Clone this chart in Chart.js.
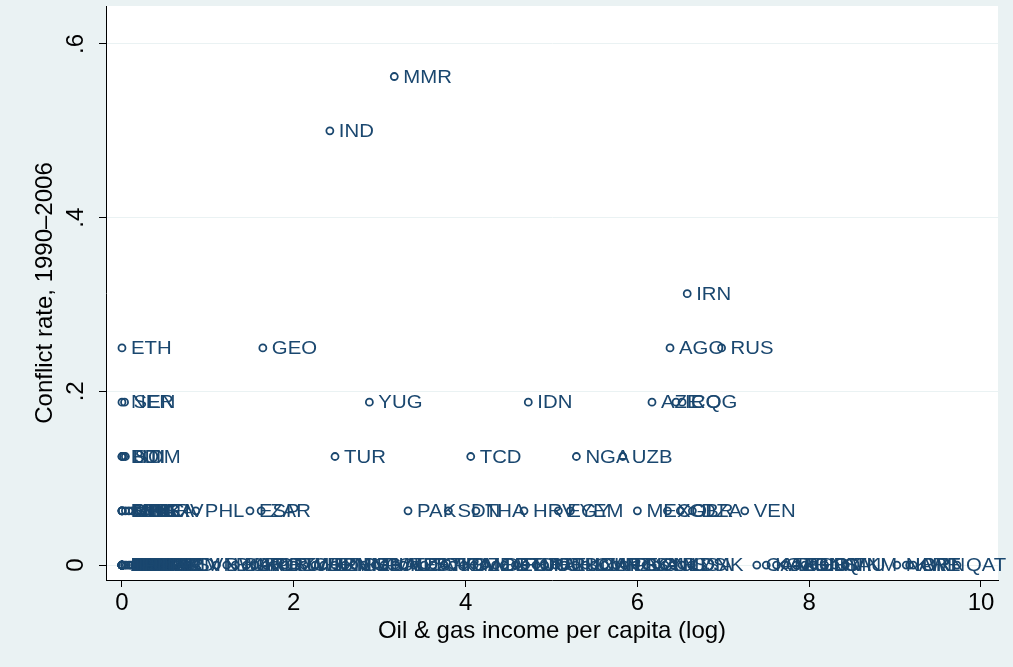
<!DOCTYPE html>
<html>
<head>
<meta charset="utf-8">
<script src="https://cdn.jsdelivr.net/npm/chart.js@4.4.0/dist/chart.umd.min.js"></script>
<style>
  html, body { margin: 0; padding: 0; background: #eaf2f3; }
  #wrap { width: 1013px; height: 667px; }
</style>
</head>
<body>
<div id="wrap"><canvas id="chart" width="1013" height="667"></canvas></div>
<script>
// one entry per country: ISO code, oil & gas income per capita (log), conflict rate
const countries = [
  'MMR', 'IND', 'IRN',
  'ETH', 'GEO', 'AGO', 'RUS',
  'NER', 'SEN', 'YUG', 'IDN', 'AZE', 'IRQ', 'COG',
  'BDI', 'DJI', 'SOM', 'HTI', 'TUR', 'TCD', 'NGA', 'UZB',
  'MLI', 'GIN', 'RWA', 'LBR', 'NPL', 'LKA', 'SLE', 'TJK', 'UGA', 'ISR', 'CIV', 'PHL', 'ESP', 'ZAR',
  'PAK', 'SDN', 'THA', 'HRV', 'EGY', 'YEM', 'MEX', 'COL', 'GBR', 'DZA', 'VEN',
  'ALB', 'BEN', 'BFA', 'BTN', 'CPV', 'CRI', 'CYP', 'GMB', 'GNB', 'ISL', 'JAM', 'LSO', 'MWI', 'MUS', 'FJI', 'ERI',
  'KEN', 'LAO', 'MDG', 'NAM', 'PAN', 'PRY', 'SLV', 'SWZ', 'TGO', 'URY', 'ZMB', 'MDA', 'KGZ', 'LVA', 'NIC', 'HND', 'ARM',
  'SVN', 'BWA', 'BGR', 'BLR', 'GRC', 'KOR', 'PRT', 'LTU', 'SWE', 'ZWE', 'CHE', 'HUN', 'JPN', 'KHM', 'MNG', 'BEL',
  'GHA', 'POL', 'MKD', 'AUT', 'TZA', 'EST', 'SVK', 'CUB', 'FRA', 'ITA', 'CZE', 'MOZ', 'MAR', 'DEU', 'GTM', 'ROU',
  'BRA', 'JOR', 'IRL', 'CHL', 'TUN', 'BOL', 'CMR', 'ZAF', 'ARG', 'NZL', 'PNG', 'ECU', 'SYR', 'AUS', 'NLD', 'MYS',
  'USA', 'DNK',
  'CAN', 'KAZ', 'GAB', 'TTO', 'BHR', 'GNQ', 'LBY', 'OMN', 'SAU', 'TKM', 'NOR', 'KWT', 'ARE', 'BRN', 'QAT'
];

const oilGasIncome = [
  3.17, 2.42, 6.58,
  0, 1.64, 6.38, 6.98,
  0, 0.03, 2.88, 4.73, 6.17, 6.45, 6.52,
  0, 0, 0.04, 0.02, 2.48, 4.06, 5.29, 5.83,
  0, 0, 0, 0, 0.04, 0.08, 0.12, 0.18, 0.22, 0.3, 0.45, 0.86, 1.49, 1.62,
  3.33, 3.8, 4.12, 4.68, 5.08, 5.22, 6.0, 6.35, 6.5, 6.64, 7.25,
  0, 0, 0, 0, 0, 0, 0, 0, 0, 0, 0, 0, 0, 0, 0, 0,
  0.03, 0.05, 0.08, 0.1, 0.12, 0.15, 0.18, 0.2, 0.22, 0.25, 0.28, 0.3, 0.35, 0.38, 0.42, 0.46, 0.52,
  0.76, 1.1, 1.22, 1.32, 1.45, 1.55, 1.68, 1.78, 1.9, 2.0, 2.12, 2.25, 2.35, 2.48, 2.6, 2.7,
  2.82, 2.95, 3.05, 3.18, 3.28, 3.4, 3.52, 3.62, 3.75, 3.85, 3.98, 4.1, 4.22, 4.35, 4.45, 4.58,
  4.7, 4.82, 4.92, 5.05, 5.15, 5.28, 5.4, 5.5, 5.62, 5.75, 5.85, 5.98, 6.1, 6.22, 6.32, 6.42,
  6.52, 6.63,
  7.39, 7.5, 7.62, 7.72, 7.85, 7.95, 8.05, 8.18, 8.3, 8.42, 9.02, 9.13, 9.17, 9.21, 9.72
];

const conflictRate = [
  0.5625, 0.5, 0.3125,
  0.25, 0.25, 0.25, 0.25,
  0.1875, 0.1875, 0.1875, 0.1875, 0.1875, 0.1875, 0.1875,
  0.125, 0.125, 0.125, 0.125, 0.125, 0.125, 0.125, 0.125,
  0.0625, 0.0625, 0.0625, 0.0625, 0.0625, 0.0625, 0.0625, 0.0625, 0.0625, 0.0625, 0.0625, 0.0625, 0.0625, 0.0625,
  0.0625, 0.0625, 0.0625, 0.0625, 0.0625, 0.0625, 0.0625, 0.0625, 0.0625, 0.0625, 0.0625,
  0, 0, 0, 0, 0, 0, 0, 0, 0, 0, 0, 0, 0, 0, 0, 0,
  0, 0, 0, 0, 0, 0, 0, 0, 0, 0, 0, 0, 0, 0, 0, 0, 0,
  0, 0, 0, 0, 0, 0, 0, 0, 0, 0, 0, 0, 0, 0, 0, 0,
  0, 0, 0, 0, 0, 0, 0, 0, 0, 0, 0, 0, 0, 0, 0, 0,
  0, 0, 0, 0, 0, 0, 0, 0, 0, 0, 0, 0, 0, 0, 0, 0,
  0, 0,
  0, 0, 0, 0, 0, 0, 0, 0, 0, 0, 0, 0, 0, 0, 0
];

const xTicks = [0, 2, 4, 6, 8, 10];
const yTicks = [0, 0.2, 0.4, 0.6];

const navy = '#1a476f';
const outerBg = '#eaf2f3';
const fontFamily = '"Liberation Sans", Arial, Helvetica, sans-serif';

Chart.defaults.font.family = fontFamily;

const points = oilGasIncome.map((x, i) => ({ x, y: conflictRate[i] }));

// plot region white, rest light blue-grey, like a Stata s2color scheme
const backgrounds = {
  id: 'backgrounds',
  beforeDraw(chart) {
    const { ctx, chartArea: a } = chart;
    ctx.save();
    ctx.fillStyle = outerBg;
    ctx.fillRect(0, 0, chart.width, chart.height);
    ctx.fillStyle = '#ffffff';
    ctx.fillRect(a.left, a.top, a.right - a.left, a.bottom - a.top);
    ctx.restore();
  }
};

// country code to the right of every marker
const markerLabels = {
  id: 'markerLabels',
  afterDatasetsDraw(chart) {
    const ctx = chart.ctx;
    const meta = chart.getDatasetMeta(0);
    ctx.save();
    ctx.fillStyle = navy;
    ctx.font = '18.5px ' + fontFamily;
    ctx.textBaseline = 'middle';
    meta.data.forEach((pt, i) => {
      ctx.save();
      ctx.translate(pt.x + 9, pt.y + 1);
      ctx.scale(1.1, 1);
      ctx.fillText(countries[i], 0, 0);
      ctx.restore();
    });
    ctx.restore();
  }
};

new Chart(document.getElementById('chart'), {
  type: 'scatter',
  data: {
    datasets: [{
      data: points,
      pointStyle: 'circle',
      pointRadius: 3.5,
      pointHoverRadius: 3.5,
      borderWidth: 1.8,
      borderColor: navy,
      backgroundColor: 'rgba(0,0,0,0)'
    }]
  },
  options: {
    responsive: false,
    animation: false,
    devicePixelRatio: 1,
    layout: { padding: { left: 0, right: 15, top: 6, bottom: 0 } },
    plugins: {
      legend: { display: false },
      tooltip: { enabled: false }
    },
    scales: {
      x: {
        type: 'linear',
        min: -0.186,
        max: 10.198,
        afterBuildTicks: s => { s.ticks = xTicks.map(v => ({ value: v })); },
        afterFit: s => { s.height = 87; s.paddingLeft = 0; s.paddingRight = 0; },
        ticks: {
          color: '#000',
          font: { size: 24 },
          padding: 2,
          autoSkip: false,
          maxRotation: 0,
          callback: v => String(v)
        },
        grid: { drawOnChartArea: false, tickLength: 7, tickColor: '#000', color: '#000' },
        border: { color: '#000', width: 1 },
        title: {
          display: true,
          text: 'Oil & gas income per capita (log)',
          color: '#000',
          font: { size: 24 },
          padding: { top: 0, bottom: 21 }
        }
      },
      y: {
        type: 'linear',
        min: -0.0172,
        max: 0.6437,
        afterBuildTicks: s => { s.ticks = yTicks.map(v => ({ value: v })); },
        afterFit: s => { s.width = 106; s.paddingTop = 0; s.paddingBottom = 0; },
        ticks: {
          color: '#000',
          font: { size: 24 },
          minRotation: 90,
          maxRotation: 90,
          crossAlign: 'center',
          padding: 13,
          autoSkip: false,
          callback: v => (v === 0 ? '0' : String(v).replace(/^0/, ''))
        },
        grid: { color: outerBg, lineWidth: 1, tickLength: 7, tickColor: '#000' },
        border: { color: '#000', width: 1 },
        title: {
          display: true,
          text: 'Conflict rate, 1990\u20132006',
          color: '#000',
          font: { size: 24 },
          padding: { top: 31, bottom: 0 }
        }
      }
    }
  },
  plugins: [backgrounds, markerLabels]
});
</script>
</body>
</html>
